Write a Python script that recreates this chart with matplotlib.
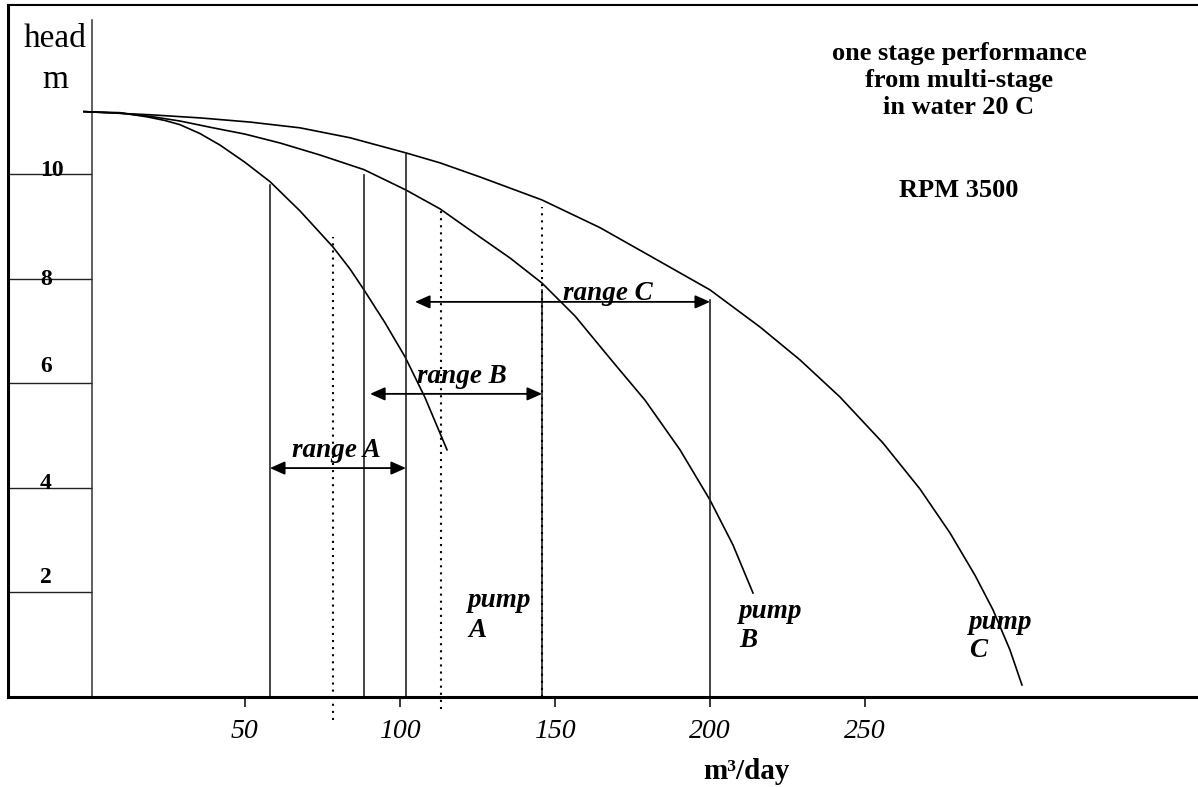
import matplotlib.pyplot as plt

# flow in m3/day, head in m
pump_a_q = [-1.87, 3.29, 9.74, 18.45, 24.26, 29.10, 35.55, 42.00, 50.06, 58.13,
            67.81, 78.45, 83.94, 88.45, 95.23, 101.68, 108.13, 115.23]
pump_a_h = [11.20, 11.19, 11.18, 11.10, 11.03, 10.95, 10.78, 10.56, 10.23, 9.86,
            9.30, 8.61, 8.19, 7.79, 7.16, 6.51, 5.73, 4.73]

pump_b_q = [-1.87, 9.74, 19.42, 29.10, 39.74, 50.06, 61.35, 74.26, 88.45, 102.00,
            112.97, 125.87, 135.55, 145.87, 156.52, 168.77, 179.10, 190.39,
            200.06, 207.48, 213.94]
pump_b_h = [11.20, 11.17, 11.11, 11.02, 10.89, 10.77, 10.60, 10.37, 10.09, 9.70,
            9.34, 8.80, 8.40, 7.92, 7.29, 6.41, 5.68, 4.73, 3.77, 2.91, 1.99]

pump_c_q = [-1.87, 19.42, 35.55, 51.68, 67.81, 83.94, 102.00, 112.97, 125.87,
            145.87, 164.58, 180.71, 200.06, 216.19, 229.10, 242.00, 255.87,
            267.81, 277.48, 285.55, 291.35, 296.84, 300.71]
pump_c_h = [11.20, 11.14, 11.08, 11.00, 10.89, 10.70, 10.41, 10.22, 9.95,
            9.51, 8.98, 8.44, 7.79, 7.08, 6.45, 5.74, 4.86,
            3.98, 3.14, 2.33, 1.67, 0.90, 0.23]

# solid markers (flow, top head)
solid_q = [58.1, 88.5, 102.0, 145.9, 200.1]
solid_top = [9.80, 9.99, 10.41, 7.79, 7.60]

# dotted markers (flow, bottom head, top head)
dotted_q = [78.5, 113.3, 145.9]
dotted_bottom = [-0.44, -0.23, 0.0]
dotted_top = [8.80, 9.38, 9.38]

# operating ranges
range_names = ["range A", "range B", "range C"]
range_start = [58.1, 90.4, 104.9]
range_end = [102.0, 145.9, 200.1]
range_head = [4.38, 5.80, 7.56]

x_ticks = [50, 100, 150, 200, 250]
y_ticks = [2, 4, 6, 8, 10]

serif = "Liberation Serif"

fig = plt.figure(figsize=(11.98, 7.87), dpi=100)
ax = fig.add_axes([8 / 1198, 90 / 787, 1190 / 1198, 692 / 787])
ax.set_xlim(-26.39, 357.5)
ax.set_ylim(0, 13.24)

for side in ["left", "bottom"]:
    ax.spines[side].set_linewidth(2.2)
ax.spines["top"].set_linewidth(1.5)
ax.spines["right"].set_visible(False)

ax.set_xticks(x_ticks)
ax.set_xticklabels([str(v) for v in x_ticks], family=serif, style="italic", fontsize=20)
ax.tick_params(axis="x", direction="out", length=7.5, width=1.1, pad=8)
ax.set_yticks(y_ticks)
ax.set_yticklabels([])
ax.tick_params(axis="y", direction="in", length=60.5, width=1.0, color="#222222")

# head axis line
ax.plot([0.7, 0.7], [0, 12.96], color="#333333", lw=1.1, clip_on=False)

for q, h in [(pump_a_q, pump_a_h), (pump_b_q, pump_b_h), (pump_c_q, pump_c_h)]:
    ax.plot(q, h, color="black", lw=1.2, solid_joinstyle="round")

for q, top in zip(solid_q, solid_top):
    ax.plot([q, q], [0, top], color="#222222", lw=1.2)

for q, lo, hi in zip(dotted_q, dotted_bottom, dotted_top):
    ax.plot([q, q], [lo, hi], color="black", lw=1.5, dashes=(1, 2.4), clip_on=False)

for name, q0, q1, h in zip(range_names, range_start, range_end, range_head):
    ax.annotate("", xy=(q1, h), xytext=(q0, h),
                arrowprops=dict(arrowstyle="<|-|>,head_length=0.45,head_width=0.2",
                                color="black", lw=1.3, mutation_scale=20,
                                shrinkA=0, shrinkB=0))

label_style = dict(family=serif, style="italic", weight="bold", fontsize=19.5,
                   va="baseline", ha="left")
ax.text(65.2, 4.59, "range A", **label_style)
ax.text(105.6, 6.01, "range B", **label_style)
ax.text(152.6, 7.60, "range C", **label_style)

ax.text(122.0, 1.72, "pump", **label_style)
ax.text(122.0, 1.15, "A", **label_style)
ax.text(209.4, 1.51, "pump", **label_style)
ax.text(209.4, 0.96, "B", **label_style)
ax.text(283.6, 1.30, "pump", **label_style)
ax.text(283.6, 0.77, "C", **label_style)

# y labels sit above the inward ticks
y_label_base = [2.18, 3.98, 6.22, 7.89, 9.97]
for v, b in zip(y_ticks, y_label_base):
    ax.text(-16.1, b, str(v), family=serif, weight="bold", fontsize=17,
            va="baseline", ha="left")

ax.text(-11.2, 12.44, "head", family=serif, fontsize=24, ha="center", va="baseline")
ax.text(-11.2, 11.66, "m", family=serif, fontsize=24, ha="center", va="baseline")

note = dict(family=serif, weight="bold", fontsize=19, ha="center", va="baseline")
ax.text(280.4, 12.19, "one stage performance", **note)
ax.text(280.4, 11.67, "from multi-stage", **note)
ax.text(280.4, 11.16, "in water 20 C", **note)
ax.text(280.4, 9.57, "RPM 3500", **note)

ax.text(211.7, -1.57, "m³/day", family=serif, weight="bold", fontsize=21,
        ha="center", va="baseline", clip_on=False)

fig.savefig("out.png", dpi=100)
